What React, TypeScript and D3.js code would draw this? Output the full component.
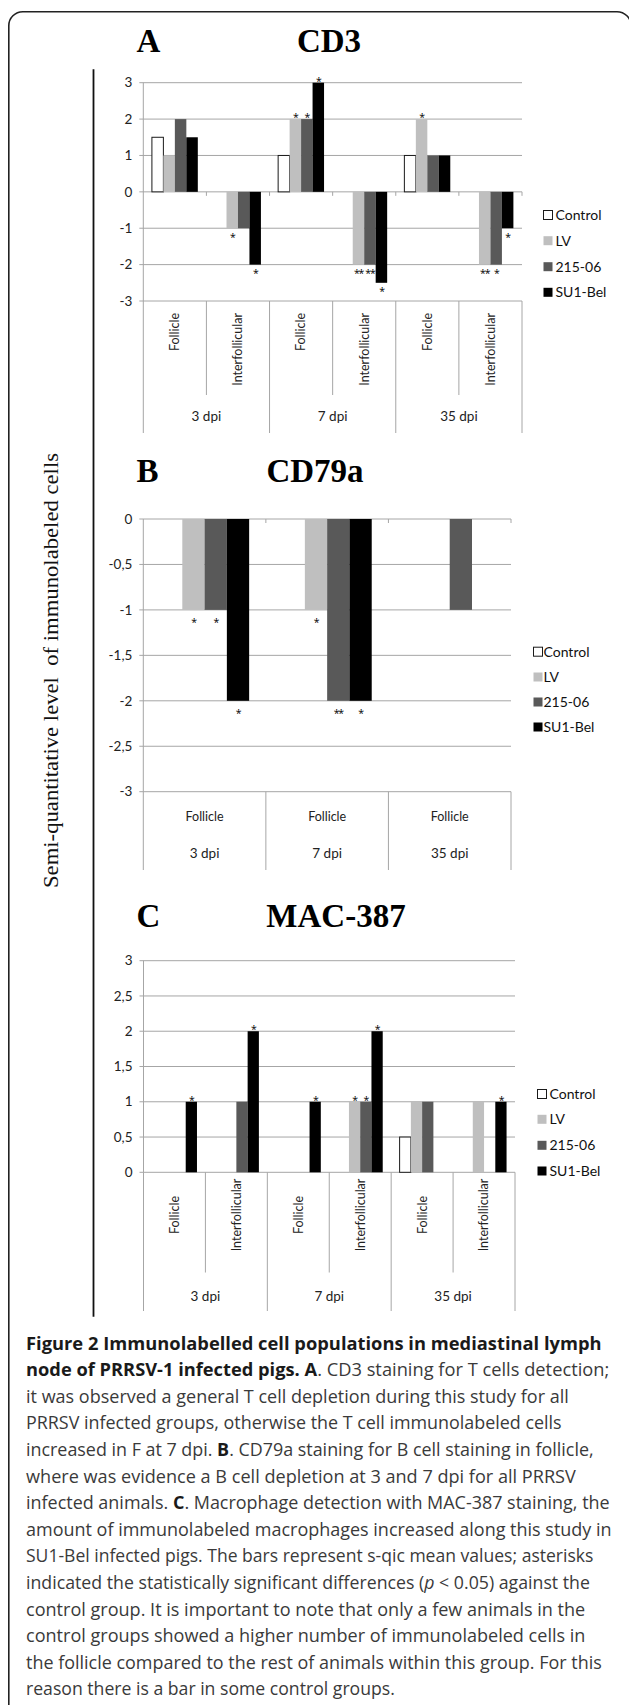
import React, { useLayoutEffect, useRef, useState } from "react";
import * as d3 from "d3";

// ---------- DATA ----------
const seriesNames = ["Control", "LV", "215-06", "SU1-Bel"];
const dpiLabels = ["3 dpi", "7 dpi", "35 dpi"];
const regionLabels = ["Follicle", "Interfollicular"];

// Panel A – CD3 (categories: F 3dpi, I 3dpi, F 7dpi, I 7dpi, F 35dpi, I 35dpi)
const cd3Control = [1.5, 0, 1, 0, 1, 0];
const cd3LV = [1, -1, 2, -2, 2, -2];
const cd3Strain215 = [2, -1, 2, -2, 1, -2];
const cd3SU1Bel = [1.5, -2, 3, -2.5, 1, -1];
const cd3StarsControl = ["", "", "", "", "", ""];
const cd3StarsLV = ["", "*", "*", "**", "*", "**"];
const cd3Stars215 = ["", "", "*", "**", "", "*"];
const cd3StarsSU1 = ["", "*", "*", "*", "", "*"];
const cd3Ticks = [-3, -2, -1, 0, 1, 2, 3];

// Panel B – CD79a (categories: Follicle at 3, 7, 35 dpi)
const cd79Control = [0, 0, 0];
const cd79LV = [-1, -1, 0];
const cd79Strain215 = [-1, -2, -1];
const cd79SU1Bel = [-2, -2, 0];
const cd79StarsControl = ["", "", ""];
const cd79StarsLV = ["*", "*", ""];
const cd79Stars215 = ["*", "**", ""];
const cd79StarsSU1 = ["*", "*", ""];
const cd79Ticks = [0, -0.5, -1, -1.5, -2, -2.5, -3];

// Panel C – MAC-387
const macControl = [0, 0, 0, 0, 0.5, 0];
const macLV = [0, 0, 0, 1, 1, 1];
const macStrain215 = [0, 1, 0, 1, 1, 0];
const macSU1Bel = [1, 2, 1, 2, 0, 1];
const macStarsControl = ["", "", "", "", "", ""];
const macStarsLV = ["", "", "", "*", "", ""];
const macStars215 = ["", "", "", "*", "", ""];
const macStarsSU1 = ["*", "*", "*", "*", "", "*"];
const macTicks = [0, 0.5, 1, 1.5, 2, 2.5, 3];

const yAxisTitle = "Semi-quantitative level  of immunolabeled cells";

const captionLines: [string, string][][] = [
  [["Figure 2 Immunolabelled cell populations in mediastinal lymph", "b"]],
  [["node of PRRSV-1 infected pigs. A", "b"], [". CD3 staining for T cells detection;", ""]],
  [["it was observed a general T cell depletion during this study for all", ""]],
  [["PRRSV infected groups, otherwise the T cell immunolabeled cells", ""]],
  [["increased in F at 7 dpi. ", ""], ["B", "b"], [". CD79a staining for B cell staining in follicle,", ""]],
  [["where was evidence a B cell depletion at 3 and 7 dpi for all PRRSV", ""]],
  [["infected animals. ", ""], ["C", "b"], [". Macrophage detection with MAC-387 staining, the", ""]],
  [["amount of immunolabeled macrophages increased along this study in", ""]],
  [["SU1-Bel infected pigs. The bars represent s-qic mean values; asterisks", ""]],
  [["indicated the statistically significant differences (", ""], ["p", "i"], [" < 0.05) against the", ""]],
  [["control group. It is important to note that only a few animals in the", ""]],
  [["control groups showed a higher number of immunolabeled cells in", ""]],
  [["the follicle compared to the rest of animals within this group. For this", ""]],
  [["reason there is a bar in some control groups.", ""]],
];
const captionLineWidths = [576, 584, 543, 536, 568, 550, 584, 586, 568, 564, 560, 560, 576, 369];

// ---------- STYLE ----------
const seriesFill = ["#ffffff", "#bfbfbf", "#595959", "#000000"];
const gridColor = "#a6a6a6";
const sans = "Lato, 'Open Sans', sans-serif";
const serif = "'Liberation Serif', 'Times New Roman', serif";
const fmt = d3.formatLocale({ decimal: ",", thousands: ".", grouping: [3], currency: ["", ""], minus: "-" }).format("~g");

type Cat = { region: string; dpi: string };

const sixCats: Cat[] = dpiLabels.flatMap((d) => regionLabels.map((r) => ({ region: r, dpi: d })));
const threeCats: Cat[] = dpiLabels.map((d) => ({ region: regionLabels[0], dpi: d }));

type PanelProps = {
  letter: string;
  title: string;
  titleCx: number;
  titleBase: number;
  x0: number;
  x1: number;
  domain: [number, number];
  yRange: [number, number];
  ticks: number[];
  cats: Cat[];
  values: number[][];
  stars: string[][];
  labelMode: "rotTop" | "rotMid" | "horiz";
  catLabelY: number;
  innerBottom: number;
  outerBottom: number;
  dpiY: number;
  legendSqX: number;
  legendTextX: number;
  legendY: number[];
  starAbove: number;
  starBelow: number;
};

function Panel(p: PanelProps) {
  const catIds = p.cats.map((_, i) => String(i));
  const x = d3.scaleBand<string>().domain(catIds).range([p.x0, p.x1]).paddingInner(0).paddingOuter(0);
  const xs = d3.scaleBand<string>().domain(seriesNames).range([0, x.bandwidth()]).paddingInner(0).paddingOuter(0.75);
  const y = d3.scaleLinear().domain(p.domain).range(p.yRange);
  const baseY = y(p.domain[0]);
  const zeroY = y(0);
  const grouped = p.labelMode !== "horiz";
  const boundaries = d3.range(p.cats.length + 1).map((i) => p.x0 + i * x.step());

  const groups: { dpi: string; cx: number }[] = [];
  dpiLabels.forEach((d) => {
    const idx = p.cats.map((c, i) => (c.dpi === d ? i : -1)).filter((i) => i >= 0);
    if (idx.length) {
      const a = x(String(idx[0]))!;
      const b = x(String(idx[idx.length - 1]))! + x.bandwidth();
      groups.push({ dpi: d, cx: (a + b) / 2 });
    }
  });

  return (
    <g>
      <text x={136.4} y={p.titleBase} fontFamily={serif} fontWeight="bold" fontSize={33} fill="#000">
        {p.letter}
      </text>
      <text x={p.titleCx} y={p.titleBase} fontFamily={serif} fontWeight="bold" fontSize={33} fill="#000" textAnchor="middle">
        {p.title}
      </text>

      {p.ticks.map((t) => (
        <g key={"g" + t}>
          <line x1={p.x0 - 4} x2={p.x1} y1={y(t)} y2={y(t)} stroke={gridColor} strokeWidth={1} />
          <text x={p.x0 - 11} y={y(t)} dy="0.35em" textAnchor="end" fontFamily={sans} fontSize={13.5} fill="#222">
            {fmt(t)}
          </text>
        </g>
      ))}
      <line x1={p.x0} x2={p.x0} y1={y(p.domain[1])} y2={baseY} stroke={gridColor} strokeWidth={1} />

      {zeroY !== baseY &&
        boundaries.slice(1).map((bx, i) => (
          <line key={"zt" + i} x1={bx} x2={bx} y1={zeroY} y2={zeroY + 4} stroke={gridColor} strokeWidth={1} />
        ))}

      {boundaries.map((bx, i) => {
        const outer = !grouped || i % 2 === 0;
        return (
          <line key={"cb" + i} x1={bx} x2={bx} y1={baseY} y2={outer ? p.outerBottom : p.innerBottom} stroke={gridColor} strokeWidth={1} />
        );
      })}

      {p.values.map((vals, s) =>
        vals.map((v, c) => {
          if (v === 0) return null;
          const bx = x(String(c))! + xs(seriesNames[s])!;
          const top = y(Math.max(0, v));
          const bot = y(Math.min(0, v));
          return (
            <rect
              key={"b" + s + "-" + c}
              x={bx}
              y={top}
              width={xs.bandwidth()}
              height={bot - top}
              fill={seriesFill[s]}
              stroke={s === 0 ? "#1a1a1a" : "none"}
              strokeWidth={s === 0 ? 1 : 0}
            />
          );
        })
      )}

      {p.stars.map((row, s) =>
        row.map((st, c) => {
          if (!st) return null;
          const v = p.values[s][c];
          const cx = x(String(c))! + xs(seriesNames[s])! + xs.bandwidth() / 2;
          const sy = v >= 0 ? y(v) - p.starAbove : y(v) + p.starBelow;
          return (
            <text
              key={"s" + s + "-" + c}
              x={cx}
              y={sy}
              textAnchor="middle"
              fontFamily="'Open Sans', sans-serif"
              fontSize={10.5}
              letterSpacing={-1.2}
              fill="#000"
            >
              {st}
            </text>
          );
        })
      )}

      {p.cats.map((c, i) => {
        const cx = x(String(i))! + x.bandwidth() / 2;
        if (p.labelMode === "horiz") {
          return (
            <text key={"cl" + i} x={cx} y={p.catLabelY} dy="0.35em" textAnchor="middle" fontFamily={sans} fontSize={12.5} fill="#222">
              {c.region}
            </text>
          );
        }
        return (
          <text
            key={"cl" + i}
            transform={`translate(${cx},${p.catLabelY}) rotate(-90)`}
            dy="0.35em"
            textAnchor={p.labelMode === "rotTop" ? "end" : "middle"}
            fontFamily={sans}
            fontSize={12.5}
            fill="#222"
          >
            {c.region}
          </text>
        );
      })}

      {groups.map((g) => (
        <text key={"d" + g.dpi} x={g.cx} y={p.dpiY} dy="0.35em" textAnchor="middle" fontFamily={sans} fontSize={13.5} fill="#222">
          {g.dpi}
        </text>
      ))}

      {seriesNames.map((n, i) => (
        <g key={"l" + n}>
          <rect
            x={p.legendSqX}
            y={p.legendY[i] - 4.5}
            width={9}
            height={9}
            fill={seriesFill[i]}
            stroke={i === 0 ? "#1a1a1a" : "none"}
            strokeWidth={i === 0 ? 1 : 0}
          />
          <text x={p.legendTextX} y={p.legendY[i]} dy="0.35em" fontFamily={sans} fontSize={14} fill="#111">
            {n}
          </text>
        </g>
      ))}
    </g>
  );
}

function CaptionLine({ segs, y, x, width }: { segs: [string, string][]; y: number; x: number; width: number }) {
  const ref = useRef<SVGTextElement>(null);
  const [k, setK] = useState(1);
  useLayoutEffect(() => {
    if (ref.current) {
      const w = ref.current.getComputedTextLength();
      if (w > 0) setK(width / w);
    }
  }, [width]);
  return (
    <text
      ref={ref}
      transform={`translate(${x},${y}) scale(${k},1)`}
      fontFamily="'Open Sans', sans-serif"
      fontSize={18}
      fill="#3a3a3a"
      style={{ whiteSpace: "pre" }}
    >
      {segs.map(([t, st], j) => (
        <tspan key={j} fontWeight={st === "b" ? 700 : 400} fontStyle={st === "i" ? "italic" : "normal"} fill={st === "b" ? "#1a1a1a" : "#3a3a3a"}>
          {t}
        </tspan>
      ))}
    </text>
  );
}

export default function App() {
  const W = 629;
  const H = 1705;
  const capX = 26;
  const capBase0 = 1349.5;
  const capStep = 26.6;
  return (
    <svg width={W} height={H} viewBox={`0 0 ${W} ${H}`} style={{ position: "absolute", left: 0, top: 0, display: "block", background: "#fff" }}>
      <rect x={0} y={0} width={W} height={H} fill="#fff" />
      <path d={`M 8.8 ${H + 2} V 25.7 A 14 14 0 0 1 22.8 11.7 H 617 A 14 14 0 0 1 631 25.7 V ${H + 2}`} fill="none" stroke="#222" strokeWidth={1.6} />
      <line x1={93.5} x2={93.5} y1={69.3} y2={1316.7} stroke="#111" strokeWidth={1.8} />
      <text
        transform="translate(58,670.5) rotate(-90)"
        textAnchor="middle"
        fontFamily={serif}
        fontSize={22}
        fill="#111"
        style={{ whiteSpace: "pre" }}
        textLength={435}
        lengthAdjust="spacingAndGlyphs"
      >
        {yAxisTitle}
      </text>

      <Panel
        letter="A"
        title="CD3"
        titleCx={329}
        titleBase={51.7}
        x0={143.3}
        x1={522}
        domain={[-3, 3]}
        yRange={[301, 82.7]}
        ticks={cd3Ticks}
        cats={sixCats}
        values={[cd3Control, cd3LV, cd3Strain215, cd3SU1Bel]}
        stars={[cd3StarsControl, cd3StarsLV, cd3Stars215, cd3StarsSU1]}
        labelMode="rotTop"
        catLabelY={313}
        innerBottom={395}
        outerBottom={433}
        dpiY={416.7}
        legendSqX={543.5}
        legendTextX={555.5}
        legendY={[215, 240.7, 266.7, 292.3]}
        starAbove={-2.2}
        starBelow={12.5}
      />
      <Panel
        letter="B"
        title="CD79a"
        titleCx={315}
        titleBase={481.7}
        x0={143.3}
        x1={511}
        domain={[-3, 0]}
        yRange={[791.7, 519]}
        ticks={cd79Ticks}
        cats={threeCats}
        values={[cd79Control, cd79LV, cd79Strain215, cd79SU1Bel]}
        stars={[cd79StarsControl, cd79StarsLV, cd79Stars215, cd79StarsSU1]}
        labelMode="horiz"
        catLabelY={816.7}
        innerBottom={870}
        outerBottom={870}
        dpiY={853.3}
        legendSqX={533.5}
        legendTextX={543.5}
        legendY={[651.7, 677, 702, 727]}
        starAbove={-2.2}
        starBelow={16.5}
      />
      <Panel
        letter="C"
        title="MAC-387"
        titleCx={336}
        titleBase={927}
        x0={143.5}
        x1={515}
        domain={[0, 3]}
        yRange={[1172.3, 960.7]}
        ticks={macTicks}
        cats={sixCats}
        values={[macControl, macLV, macStrain215, macSU1Bel]}
        stars={[macStarsControl, macStarsLV, macStars215, macStarsSU1]}
        labelMode="rotMid"
        catLabelY={1215}
        innerBottom={1272.5}
        outerBottom={1311}
        dpiY={1296}
        legendSqX={537.5}
        legendTextX={549.5}
        legendY={[1094, 1119.3, 1145.3, 1171]}
        starAbove={-2.2}
        starBelow={12.5}
      />

      {captionLines.map((segs, i) => (
        <CaptionLine key={"cap" + i} segs={segs} x={capX} y={capBase0 + i * capStep} width={captionLineWidths[i]} />
      ))}
    </svg>
  );
}
